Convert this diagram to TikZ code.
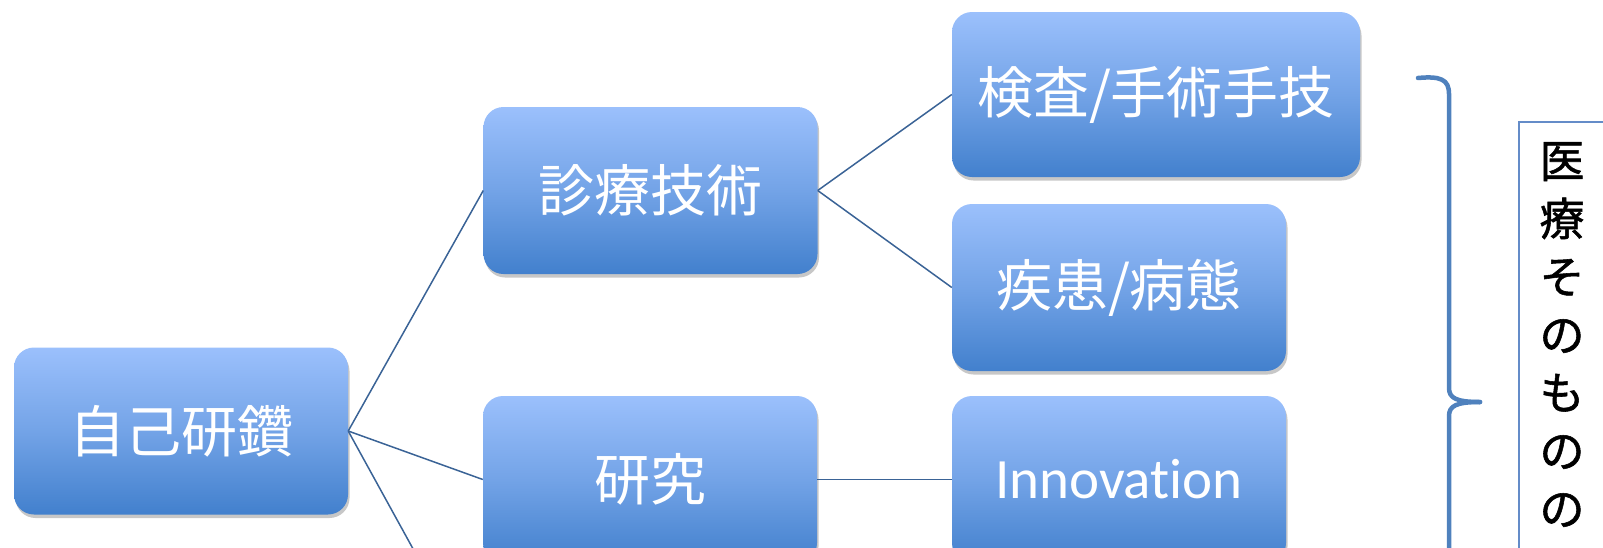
\documentclass[tikz,border=0pt]{standalone}
\usepackage{fontspec}
\newfontfamily\jpfont{Noto Sans CJK JP}
\newfontfamily\jpboldfont[FakeBold=1.2]{Noto Sans CJK JP}
\newfontfamily\latfont[Ligatures=NoCommon]{Carlito}
\usetikzlibrary{shadows}
\definecolor{boxtop}{RGB}{155,192,252}
\definecolor{boxbot}{RGB}{66,128,205}
\definecolor{linkcol}{RGB}{58,99,150}
\definecolor{bracecol}{RGB}{79,129,189}
\definecolor{tboxcol}{RGB}{100,140,200}
\tikzset{
  bluebox/.style={rectangle, rounded corners=20pt, top color=boxtop, bottom color=boxbot,
    middle color=boxtop!55!boxbot,
    minimum width=334pt, minimum height=167pt, inner sep=0pt, text=white,
    font=\jpfont\fontsize{56}{60}\selectfont,
    drop shadow={shadow xshift=1.5pt, shadow yshift=-3.5pt, fill=black, opacity=.22}},
  link/.style={draw=linkcol, line width=1.5pt},
  bracestyle/.style={draw=bracecol, line width=4.5pt, line cap=round, line join=round},
  textframe/.style={draw=tboxcol, line width=1.5pt, rectangle, inner sep=0pt, anchor=north west}
}
\begin{document}
\begin{tikzpicture}[x=1pt,y=-1pt]
\useasboundingbox (0,0) rectangle (1603,547);
% boxes
\node[bluebox] (root) at (181,431) {自己研鑽};
\node[bluebox] (sinryo) at (650.5,190.5) {診療技術};
\node[bluebox] (kenkyu) at (650,479.5) {研究};
\node[bluebox, minimum width=408pt, minimum height=165pt] (kensa) at (1156,94.5) {検査/手術手技};
\node[bluebox] (shikkan) at (1119,287.5) {疾患/病態};
\node[bluebox, font=\latfont\fontsize{57}{60}\selectfont] (innov) at (1119,479.5) {Innovation};
\coordinate (offroot) at (483,676);
% connectors
\draw[link] (root.east) -- (sinryo.west);
\draw[link] (root.east) -- (kenkyu.west);
\draw[link] (root.east) -- (offroot);
\draw[link] (sinryo.east) -- (kensa.west);
\draw[link] (sinryo.east) -- (shikkan.west);
\draw[link] (kenkyu.east) -- (innov.west);
% brace
\draw[bracestyle] (1418,78) .. controls (1440,76) and (1449,79) .. (1449,94) -- (1449,388)
  .. controls (1449,398) and (1456,402) .. (1480,402);
\draw[bracestyle] (1480,402) .. controls (1456,402) and (1449,406) .. (1449,416) -- (1449,720);
% text frame
\node[textframe, minimum width=300pt, minimum height=700pt] (tframe) at (1518,121) {};
\node[anchor=north, align=center, inner sep=0pt, text=black,
  font=\jpboldfont\fontsize{45}{58}\selectfont] (vtext) at (1562,142) {医\\療\\そ\\の\\も\\の\\の};
\end{tikzpicture}
\end{document}
